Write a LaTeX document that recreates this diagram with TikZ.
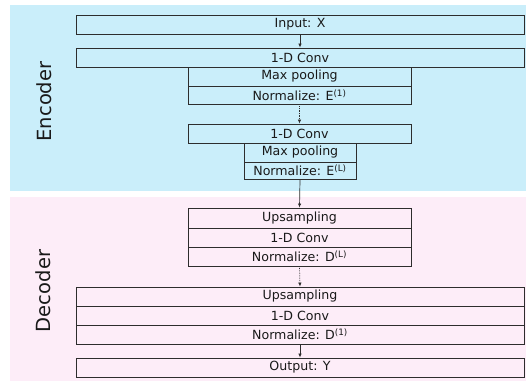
\documentclass[tikz,border=0pt]{standalone}
\usepackage{fontspec}
\setmainfont{DejaVu Sans}
\usetikzlibrary{arrows.meta}
\definecolor{encbg}{RGB}{202,238,250}
\definecolor{decbg}{RGB}{253,237,248}
\definecolor{edge}{RGB}{45,45,45}
\begin{document}
\begin{tikzpicture}[x=1pt,y=-1pt,
  blk/.style={draw=edge, line width=0.9pt, inner sep=0pt, minimum height=19pt,
    font=\fontsize{12.6}{14}\selectfont, text=black!90},
  wide/.style={blk, minimum width=448pt},
  mid/.style={blk, minimum width=223pt},
  narrow/.style={blk, minimum width=112pt},
  lbl/.style={rotate=90, font=\fontsize{19.5}{22}\selectfont, text=black!90},
  arr/.style={draw=edge, line width=0.7pt, -{Latex[length=4pt,width=3.5pt]}},
  darr/.style={arr, densely dotted}]
\useasboundingbox (0,0) rectangle (526,381);
\fill[encbg] (10,5) rectangle (526,191);
\fill[decbg] (10,197) rectangle (526,381);
\node[lbl] (enc) at (44,101.5) {Encoder};
\node[lbl] (dec) at (43,291) {Decoder};
% encoder
\node[wide] (in) at (300,24.5) {Input: X};
\node[wide] (c1) at (300,57.5) {1-D Conv};
\node[mid] (mp1) at (299.5,76.5) {Max pooling};
\node[mid, minimum height=18pt] (ne1) at (299.5,95) {Normalize: E\textsuperscript{(1)}};
\node[mid] (c2) at (299.5,133.5) {1-D Conv};
\node[narrow] (mp2) at (300,152.5) {Max pooling};
\node[narrow, minimum height=17pt] (nel) at (300,170.5) {Normalize: E\textsuperscript{(L)}};
% decoder
\node[mid, minimum height=20pt] (u1) at (299.5,218) {Upsampling};
\node[mid] (c3) at (299.5,237.5) {1-D Conv};
\node[mid] (ndl) at (299.5,256.5) {Normalize: D\textsuperscript{(L)}};
\node[wide] (u2) at (300,296.5) {Upsampling};
\node[wide] (c4) at (300,315.5) {1-D Conv};
\node[wide] (nd1) at (300,334.5) {Normalize: D\textsuperscript{(1)}};
\node[wide] (out) at (300,367.5) {Output: Y};
% connectors
\draw[arr] (in.south) -- (c1.north);
\draw[darr] (ne1.south) -- (c2.north);
\draw[arr] (nel.south) -- (u1.north);
\draw[darr] (ndl.south) -- (u2.north);
\draw[arr] (nd1.south) -- (out.north);
\end{tikzpicture}
\end{document}
